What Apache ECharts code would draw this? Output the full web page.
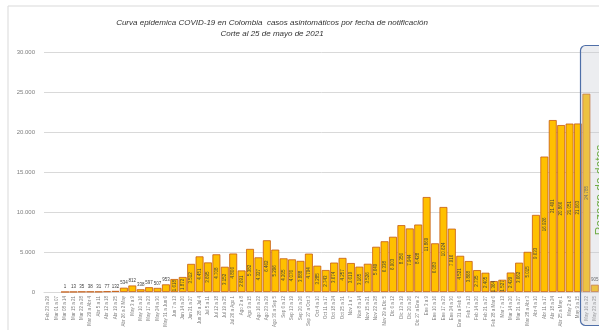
<!DOCTYPE html>
<html style="height: 100%">
<head>
    <meta charset="utf-8">
</head>
<body style="height: 100%; margin: 0; background: #fff">
<div id="curva_container" style="height: 330px; width: 599px"></div>
<script src="https://cdn.jsdelivr.net/npm/echarts@6/dist/echarts.min.js"></script>
<script type="text/javascript">
    // semanas de notificacion (dom a sab)
    var semanas = [
        'Feb 23 a 29', 'Mar 01 a 07', 'Mar 08 a 14', 'Mar 15 a 21', 'Mar 22 a 28', 'Mar 29 a Abr 4',
        'Abr 5 a 11', 'Abr 12 a 18', 'Abr 19 a 25', 'Abr 26 a 2 May', 'May 3 a 9', 'May 10 a 16',
        'May 17 a 23', 'May 24 a 30', 'May 31 a Jun 6', 'Jun 7 a 13', 'Jun 14 a 20', 'Jun 21 a 27',
        'Jun 28 a Jul 4', 'Jul 5 a 11', 'Jul 12 a 18', 'Jul 19 a 25', 'Jul 26 a Ago 1', 'Ago 2 a 8',
        'Ago 9 a 15', 'Ago 16 a 22', 'Ago 23 a 29', 'Ago 30 a Sep 5', 'Sep 6 a 12', 'Sep 13 a 19',
        'Sep 20 a 26', 'Sep 27 a Oct 3', 'Oct 4 a 10', 'Oct 11 a 17', 'Oct 18 a 24', 'Oct 25 a 31',
        'Nov 1 a 7', 'Nov 8 a 14', 'Nov 15 a 21', 'Nov 22 a 28', 'Nov 29 a Dic 5', 'Dic 6 a 12',
        'Dic 13 a 19', 'Dic 20 a 26', 'Dic 27 a Ene 2', 'Ene 3 a 9', 'Ene 10 a 16', 'Ene 17 a 23',
        'Ene 24 a 30', 'Ene 31 a Feb 6', 'Feb 7 a 13', 'Feb 14 a 20', 'Feb 21 a 27', 'Feb 28 a Mar 6',
        'Mar 7 a 13', 'Mar 14 a 20', 'Mar 21 a 27', 'Mar 28 a Abr 3', 'Abr 4 a 10', 'Abr 11 a 17',
        'Abr 18 a 24', 'Abr 25 a May 1', 'May 2 a 8', 'May 9 a 15', 'May 16 a 22', 'May 23 a 25'
    ];

    // casos asintomaticos por semana
    var casos = [
        null, null, 1, 13, 35, 38, 31, 77, 132, 534, 812, 338,
        597, 507, 953, 1618, 1872, 3512, 4451, 3695, 4708, 3152, 4806, 2691,
        5382, 4327, 6462, 5296, 4205, 4076, 3888, 4794, 3285, 2743, 3674, 4257,
        3619, 3165, 3526, 5649, 6338, 6903, 8356, 7944, 8428, 11869, 6083, 10624,
        7916, 4521, 3868, 2735, 2405, 1364, 1527, 2429, 3662, 5015, 9633, 16926,
        21491, 20866, 21051, 21063, 24785, 905
    ];

    var ejeY = [0, 5000, 10000, 15000, 20000, 25000, 30000];

    var titulo = 'Curva epidemica COVID-19 en Colombia  casos asintomáticos por fecha de notificación';
    var subtitulo = 'Corte al 25 de mayo de 2021';
    var rezago = 'Rezago de datos';

    function fmt(v) {
        return String(v).replace(/\B(?=(\d{3})+(?!\d))/g, '.');
    }

    var curva_dom = document.getElementById('curva_container');
    var curva_chart = echarts.init(curva_dom);

    var barras = casos.map(function (v) {
        if (v == null) return null;
        if (v < 1000) {
            return { value: v, label: { position: 'top', rotate: 0, distance: 2 } };
        }
        return { value: v };
    });

    var option = {
        backgroundColor: '#ffffff',
        animation: false,
        textStyle: { fontFamily: 'Liberation Sans' },
        grid: { left: 44, right: 0, top: 52, bottom: 35 },
        xAxis: {
            type: 'category',
            data: semanas,
            axisLine: { lineStyle: { color: '#d9d9d9' } },
            axisTick: { show: false },
            axisLabel: {
                interval: 0,
                rotate: 90,
                fontSize: 4.5,
                color: '#7f7f7f',
                margin: 4
            }
        },
        yAxis: {
            type: 'value',
            min: ejeY[0],
            max: ejeY[ejeY.length - 1],
            interval: ejeY[1] - ejeY[0],
            axisLine: { show: false },
            axisTick: { show: false },
            splitLine: { lineStyle: { color: '#d9d9d9', width: 1 } },
            axisLabel: {
                fontSize: 6,
                color: '#7f7f7f',
                margin: 9,
                formatter: function (v) { return fmt(v); }
            }
        },
        series: [{
            type: 'bar',
            data: barras,
            barCategoryGap: '6%',
            itemStyle: {
                color: '#ffc000',
                borderColor: '#c55a11',
                borderWidth: 0.8
            },
            label: {
                show: true,
                position: 'inside',
                rotate: 90,
                fontSize: 4.5,
                color: '#404040',
                formatter: function (p) { return fmt(p.value); }
            }
        }],
        graphic: [
            {
                type: 'rect',
                z: 100,
                shape: { x: 0, y: 0, width: 620, height: 340 },
                x: 8, y: 6,
                style: { fill: 'none', stroke: '#d9d9d9', lineWidth: 1 }
            },
            {
                type: 'text',
                z: 100,
                x: 272, y: 23,
                style: {
                    text: titulo,
                    align: 'center',
                    verticalAlign: 'middle',
                    font: 'italic 8px "Liberation Sans"',
                    fill: '#333333'
                }
            },
            {
                type: 'text',
                z: 100,
                x: 272, y: 34,
                style: {
                    text: subtitulo,
                    align: 'center',
                    verticalAlign: 'middle',
                    font: 'italic 8px "Liberation Sans"',
                    fill: '#333333'
                }
            },
            {
                type: 'rect',
                z: 100,
                shape: { x: 0, y: 0, width: 40, height: 280, r: 5 },
                x: 580.5, y: 45.5,
                style: { fill: 'rgba(195,198,208,0.32)', stroke: '#4f6fa8', lineWidth: 1.2 }
            },
            {
                type: 'text',
                z: 101,
                x: 601, y: 190,
                rotation: Math.PI / 2,
                style: {
                    text: rezago,
                    align: 'center',
                    verticalAlign: 'middle',
                    font: '12px "Liberation Sans"',
                    fill: '#70ad47'
                }
            }
        ]
    };

    if (option && typeof option === 'object') {
        curva_chart.setOption(option, true);
    }
</script>
</body>
</html>
